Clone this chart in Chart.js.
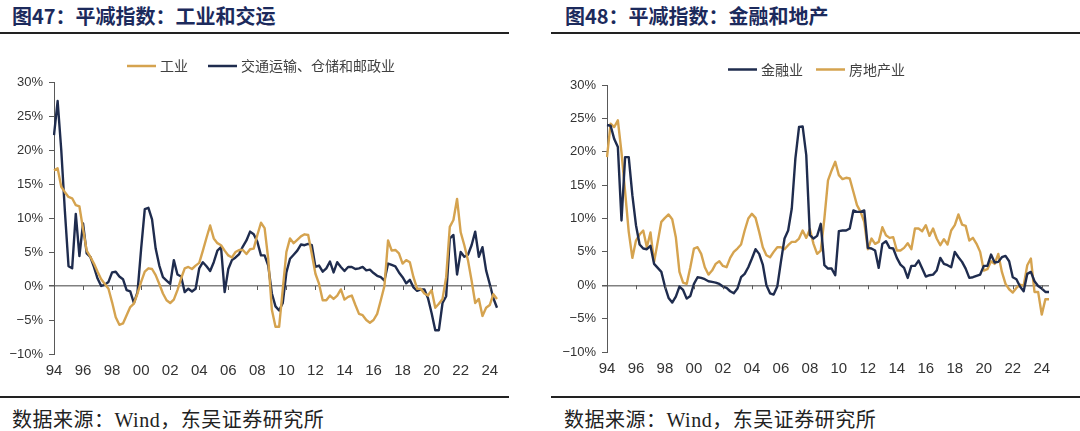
<!DOCTYPE html>
<html>
<head>
<meta charset="utf-8">
<script src="https://cdn.jsdelivr.net/npm/chart.js@4.4.1/dist/chart.umd.min.js"></script>
<style>
  body { margin: 0; width: 1080px; height: 431px; background: #fff; position: relative; overflow: hidden;
         font-family: "Noto Sans CJK SC", sans-serif; }
  .title { position: absolute; top: 1px; font-size: 20px; font-weight: bold; color: #1c2a5c; white-space: nowrap; }
  .rule { position: absolute; height: 2px; background: #222; }
  .source { position: absolute; top: 404px; font-size: 20px; letter-spacing: 0.5px; color: #222; white-space: nowrap;
            font-family: "Liberation Serif", "Noto Sans CJK SC", serif; }
  .box { position: absolute; top: 40px; }
</style>
</head>
<body>
<div class="title" style="left:12px">图47：平减指数：工业和交运</div>
<div class="title" style="left:565px">图48：平减指数：金融和地产</div>
<div class="rule" style="left:0;top:32px;width:509px"></div>
<div class="rule" style="left:551px;top:32px;width:529px"></div>

<div class="box" style="left:0"><canvas id="left" width="515" height="350"></canvas></div>
<div class="box" style="left:540px"><canvas id="right" width="540" height="350"></canvas></div>

<div class="rule" style="left:0;top:396px;width:509px"></div>
<div class="rule" style="left:551px;top:396px;width:529px"></div>
<div class="source" style="left:12px">数据来源：Wind，东吴证券研究所</div>
<div class="source" style="left:564px">数据来源：Wind，东吴证券研究所</div>

<script>
// quarterly, 1994Q1 - 2024Q3
const quarters = [];
for (let y = 1994; y <= 2024; y++) {
  for (let q = 1; q <= 4; q++) {
    if (y === 2024 && q > 3) break;
    quarters.push(y + 'Q' + q);
  }
}
const yearTicks = ['94','96','98','00','02','04','06','08','10','12','14','16','18','20','22','24'];

// 图47
const industry = [
  17.0, 17.3, 14.6, 13.8,   13.1, 12.9, 11.9, 11.7,
  8.4, 5.2, 4.3, 3.3,       2.1, 1.0, 0.3, -0.4,
  -2.4, -4.6, -5.7, -5.5,   -4.3, -3.1, -2.6, -1.1,
  0.6, 2.1, 2.6, 2.5,       1.6, 0.3, -1.1, -2.1,
  -2.5, -2.0, -0.6, 1.1,    2.6, 2.8, 2.5, 3.0,
  3.4, 5.2, 7.1, 8.9,       7.0, 6.3, 6.0, 5.2,
  4.5, 4.2, 5.0, 5.3,       5.3, 4.7, 5.4, 5.5,
  7.5, 9.3, 8.5, 4.0,       -3.5, -6.0, -6.0, -0.5,
  5.0, 7.0, 6.3, 6.8,       7.3, 7.6, 7.5, 4.7,
  1.8, 0.3, -2.1, -2.1,     -1.4, -1.9, -1.4, -0.5,
  -2.0, -1.6, -1.4, -2.8,   -4.1, -4.3, -5.0, -5.4,
  -5.0, -4.1, -2.1, 0.0,    6.7, 5.2, 5.3, 4.8,
  3.3, 3.8, 3.5, 1.3,       -0.4, -0.4, -1.1, -1.4,
  -0.6, -3.2, -2.6, -1.9,   1.3, 8.7, 9.7, 12.8,
  7.9, 6.0, 3.8, 0.8,       -2.5, -1.9, -4.4, -3.2,
  -2.8, -1.2, -1.9
];
const transport = [
  22.2, 27.2, 20.0, 11.0,   2.9, 2.6, 10.6, 4.4,
  9.2, 4.8, 4.3, 2.8,       1.1, 0.0, 0.2, 0.6,
  2.0, 2.1, 1.4, 1.0,       -0.6, -0.8, -2.5, -0.9,
  5.5, 11.3, 11.5, 9.8,     5.5, 3.0, 1.3, 0.8,
  0.3, 3.8, 1.7, 1.4,       -0.9, -0.4, -0.8, -0.4,
  2.6, 3.5, 2.9, 2.2,       3.5, 5.2, 5.7, -0.9,
  2.5, 3.8, 4.2, 4.7,       5.8, 6.7, 8.0, 7.6,
  6.5, 4.5, 4.5, 3.0,       -1.1, -3.0, -3.6, -2.5,
  2.0, 4.0, 4.6, 5.2,       6.1, 6.0, 6.2, 6.0,
  2.8, 3.0, 2.1, 2.6,       3.6, 2.0, 3.5, 2.8,
  2.2, 2.8, 2.8, 2.5,       2.6, 2.8, 2.3, 2.4,
  1.9, 1.5, 1.3, 0.8,       3.3, 3.1, 2.9, 2.0,
  1.3, 0.4, 0.9, -0.2,      -0.7, -0.5, -0.5, -1.8,
  -4.0, -6.5, -6.5, -2.5,   -1.5, 7.0, 7.5, 1.7,
  5.0, 4.3, 4.6, 6.0,       8.0, 4.3, 5.7, 2.3,
  0.3, -1.8, -3.2
];

// 图48
const finance = [
  24.0, 23.9, 21.9, 20.7,   9.7, 19.2, 19.2, 13.5,
  9.0, 6.1, 5.5, 5.4,       5.9, 3.2, 2.6, 2.0,
  -0.2, -1.9, -2.6, -1.7,   -0.2, -0.7, -2.0, -1.6,
  0.2, 1.2, 1.1, 0.9,       0.6, 0.5, 0.4, 0.2,
  -0.2, -0.4, -0.9, -1.2,   -0.5, 1.2, 1.7, 2.7,
  4.0, 5.4, 4.7, 3.1,       0.0, -1.2, -1.4, -0.2,
  3.5, 7.0, 8.2, 11.5,      19.0, 23.7, 23.8, 19.5,
  7.5, 7.0, 7.4, 9.2,       3.0, 2.5, 2.5, 1.5,
  8.1, 8.2, 8.2, 8.5,       11.2, 11.0, 11.0, 11.2,
  5.6, 5.5, 5.2, 2.6,       6.2, 6.6, 5.6, 5.5,
  4.1, 3.1, 2.6, 1.1,       2.9, 2.9, 3.7, 2.5,
  1.3, 1.5, 1.6, 2.2,       4.1, 3.2, 3.0, 2.7,
  5.0, 4.2, 3.5, 2.5,       1.1, 1.2, 1.4, 1.6,
  2.9, 2.9, 4.6, 3.4,       3.5, 4.2, 4.4, 3.6,
  1.2, 0.9, -0.2, -0.9,     1.7, 2.0, 0.6, -0.1,
  -0.5, -1.0, -1.0
];
const realEstate = [
  19.2, 24.2, 23.7, 24.7,   19.9, 14.0, 8.0, 4.1,
  6.7, 7.6, 8.2, 5.7,       7.9, 3.5, 6.5, 9.5,
  10.1, 10.6, 9.9, 7.2,     2.0, 0.4, 0.2, 2.7,
  5.5, 5.7, 4.7, 2.7,       1.6, 2.2, 3.2, 3.6,
  2.9, 2.7, 4.1, 5.0,       5.5, 6.1, 8.2, 10.0,
  10.7, 10.1, 8.0, 5.7,     4.5, 4.2, 5.0, 5.7,
  5.7, 5.4, 6.0, 6.5,       6.5, 7.0, 8.2, 7.1,
  8.4, 6.2, 4.7, 5.2,       10.0, 15.7, 17.2, 18.5,
  16.5, 15.9, 16.1, 16.0,   14.0, 12.0, 11.0, 9.5,
  5.4, 7.0, 6.2, 6.5,       8.7, 7.5, 7.1, 7.2,
  5.2, 5.2, 5.6, 6.3,       5.4, 8.5, 8.5, 8.1,
  9.0, 7.4, 8.5, 7.0,       6.0, 6.9, 6.1, 8.2,
  9.0, 10.6, 9.1, 8.9,      6.7, 7.1, 6.2, 5.0,
  2.2, 2.4, 3.6, 3.2,       4.7, 2.0, 0.2, -0.6,
  -1.1, -0.4, 0.1, -0.1,    3.0, 4.0, -1.0, -1.0,
  -4.4, -2.1, -2.1
];

const GOLD = '#d5a34f';
const NAVY = '#1f2c4e';

// small tick marks under the 0% line + hand-placed line legend
const axisExtras = {
  id: 'axisExtras',
  afterDatasetsDraw(chart, args, opts) {
    const ctx = chart.ctx;
    const xs = chart.scales.x, ys = chart.scales.y;
    const y0 = ys.getPixelForValue(0);
    ctx.save();
    ctx.strokeStyle = '#595959';
    ctx.lineWidth = 1;
    for (let i = 8; i < quarters.length; i += 8) {
      const x = Math.round(xs.getPixelForValue(i)) + 0.5;
      ctx.beginPath();
      ctx.moveTo(x, y0);
      ctx.lineTo(x, y0 + 4);
      ctx.stroke();
    }
    ctx.font = '14px "Noto Sans CJK SC"';
    ctx.textBaseline = 'middle';
    ctx.fillStyle = '#404040';
    chart.data.datasets.forEach((ds, k) => {
      const it = opts.items[k];
      ctx.strokeStyle = ds.borderColor;
      ctx.lineWidth = 2.5;
      ctx.beginPath();
      ctx.moveTo(it[0], opts.y);
      ctx.lineTo(it[0] + 29, opts.y);
      ctx.stroke();
      ctx.fillText(ds.label, it[0] + 33, opts.y);
    });
    ctx.restore();
  }
};

function makeChart(id, series, lay) {
  return new Chart(document.getElementById(id), {
    type: 'line',
    data: {
      labels: quarters,
      datasets: series.map(s => ({
        label: s.label, data: s.data, borderColor: s.color, borderWidth: 2.4,
        pointRadius: 0, tension: 0, fill: false, borderJoinStyle: 'round'
      }))
    },
    options: {
      responsive: false,
      animation: false,
      layout: { padding: { top: lay.top, right: lay.right, left: 0, bottom: 0 } },
      plugins: {
        legend: { display: false },
        tooltip: { enabled: false },
        axisExtras: { y: lay.legendY, items: lay.legend }
      },
      scales: {
        x: {
          type: 'category',
          offset: false,
          grid: { display: false, drawTicks: false },
          border: { display: false },
          ticks: {
            autoSkip: false, maxRotation: 0, padding: 8, color: '#333',
            font: { family: 'Liberation Sans', size: 15 },
            callback: (v, i) => (i % 8 === 0 ? yearTicks[i / 8] : '')
          },
          afterFit: s => { s.height = lay.xh; }
        },
        y: {
          min: -10, max: 30,
          ticks: {
            stepSize: 5, padding: 6, color: '#333',
            font: { family: 'Liberation Sans', size: 13 },
            callback: v => (v < 0 ? '\u2212' + Math.abs(v) : v) + '%'
          },
          grid: {
            drawOnChartArea: true, tickLength: 5, tickColor: '#595959',
            color: c => (c.tick && c.tick.value === 0 ? '#808080' : 'rgba(0,0,0,0)'),
            lineWidth: c => (c.tick && c.tick.value === 0 ? 1.5 : 1)
          },
          border: { display: true, color: '#595959', width: 1 },
          afterFit: s => { s.width = lay.yw; }
        }
      }
    },
    plugins: [axisExtras]
  });
}

makeChart('left', [
  { label: '工业', data: industry, color: GOLD },
  { label: '交通运输、仓储和邮政业', data: transport, color: NAVY }
], { top: 42, right: 18, xh: 36, yw: 54, legendY: 26, legend: [[127], [208]] });

makeChart('right', [
  { label: '金融业', data: finance, color: NAVY },
  { label: '房地产业', data: realEstate, color: GOLD }
], { top: 45, right: 31, xh: 38, yw: 67, legendY: 29.5, legend: [[188], [276]] });
</script>
</body>
</html>
